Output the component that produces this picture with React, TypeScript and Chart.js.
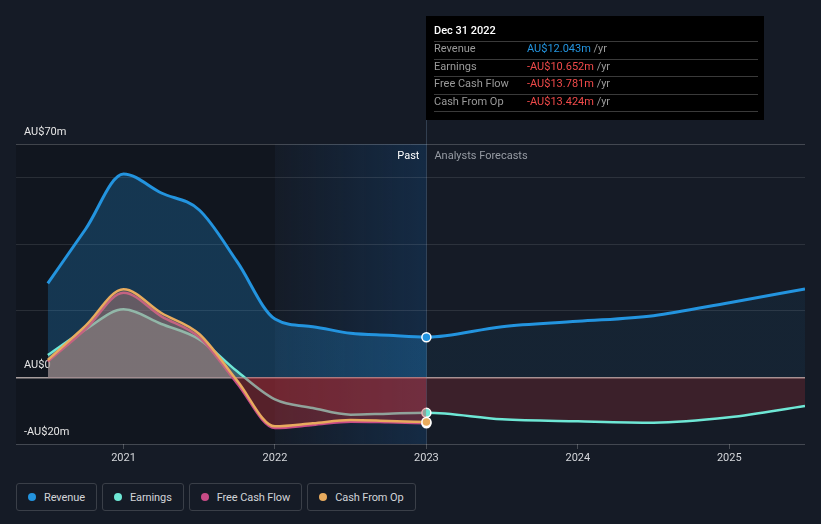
import { useEffect, useRef } from 'react';
import { Chart, registerables } from 'chart.js';

Chart.register(...registerables);

const FONT = "Roboto, 'Noto Sans', sans-serif";

// ---- data (AU$ millions) ----
const pastYears = [2020.5, 2020.75, 2021, 2021.25, 2021.5, 2021.75, 2022, 2022.25, 2022.5, 2022.75, 2023];
const forecastYears = [2023, 2023.5, 2024, 2024.5, 2025, 2025.5];

const revenuePast = [28.2, 44.5, 61.0, 55.3, 50.2, 34.7, 17.5, 15.2, 13.2, 12.6, 12.043];
const revenueForecast = [12.043, 15.2, 16.8, 18.5, 22.4, 26.5];

const earningsPast = [6.7, 14.4, 20.4, 16.0, 11.4, 1.8, -6.6, -9.2, -11.2, -10.9, -10.652];
const earningsForecast = [-10.652, -12.6, -13.2, -13.6, -12.0, -8.6];

const fcfPast = [4.7, 14.5, 25.4, 18.3, 12.0, -1.8, -15.2, -14.3, -13.3, -13.5, -13.781];
const cfoPast = [5.2, 15.5, 26.4, 19.3, 13.0, -1.0, -14.7, -13.8, -12.8, -13.1, -13.424];

const xTickYears = [2021, 2022, 2023, 2024, 2025];
const yGridValues = [-20, 0, 20, 40, 60, 70];
const yLabelValues = [-20, 0, 70];

const seriesNames = ['Revenue', 'Earnings', 'Free Cash Flow', 'Cash From Op'];
const seriesColors = ['#2394df', '#6ee7d5', '#c74b86', '#e8ab5e'];
const tooltipTitle = 'Dec 31 2022';
const highlightStart = 2022;
const forecastStart = 2023;
const xMin = 2020.29;
const xMax = 2025.5;

const pts = (xs: number[], ys: number[]) => xs.map((x, i) => ({ x, y: ys[i] }));
const fmt = (v: number) => (v < 0 ? '-' : '') + 'AU$' + Math.abs(v).toFixed(3) + 'm';
const yLabel = (v: number) => (v < 0 ? '-' : '') + 'AU$' + Math.abs(v) + (v === 0 ? '' : 'm');

const revenueAll = pts(pastYears, revenuePast).concat(pts(forecastYears.slice(1), revenueForecast.slice(1)));
const earningsAll = pts(pastYears, earningsPast).concat(pts(forecastYears.slice(1), earningsForecast.slice(1)));

const markerRadius = (c: any) => (c.raw && c.raw.x === forecastStart ? 4.5 : 0);

const bandPlugin = {
  id: 'bands',
  beforeDraw(chart: any) {
    const { ctx, chartArea: a, scales } = chart;
    const x = scales.x;
    const p0 = x.getPixelForValue(highlightStart);
    const p1 = x.getPixelForValue(forecastStart);
    ctx.save();
    ctx.fillStyle = 'rgba(0,0,0,0.17)';
    ctx.fillRect(a.left, a.top, p0 - a.left, a.bottom - a.top);
    const g = ctx.createLinearGradient(p0, 0, p1, 0);
    g.addColorStop(0, 'rgba(20,80,140,0.02)');
    g.addColorStop(1, 'rgba(20,80,140,0.3)');
    ctx.fillStyle = g;
    ctx.fillRect(p0, a.top, p1 - p0, a.bottom - a.top);
    ctx.strokeStyle = 'rgba(120,150,180,0.3)';
    ctx.lineWidth = 1;
    ctx.beginPath();
    ctx.moveTo(Math.round(p1) + 0.5, 120);
    ctx.lineTo(Math.round(p1) + 0.5, a.bottom);
    ctx.stroke();
    ctx.restore();
  },
};

const overlayPlugin = {
  id: 'overlay',
  afterDraw(chart: any) {
    const { ctx, chartArea: a, scales } = chart;
    const p1 = scales.x.getPixelForValue(forecastStart);
    ctx.save();
    ctx.font = `11px ${FONT}`;
    ctx.textBaseline = 'middle';
    ctx.textAlign = 'right';
    ctx.fillStyle = '#ffffff';
    ctx.fillText('Past', p1 - 7, a.top + 12);
    ctx.textAlign = 'left';
    ctx.fillStyle = '#969ba3';
    ctx.fillText('Analysts Forecasts', p1 + 8, a.top + 12);

    // tooltip box
    const left = Math.round(p1);
    const top = 16;
    const w = 338;
    const h = 104;
    ctx.fillStyle = '#000000';
    ctx.fillRect(left, top, w, h);
    ctx.fillStyle = '#ffffff';
    ctx.font = `500 11px ${FONT}`;
    ctx.fillText(tooltipTitle, left + 8, 31);
    const vals = [
      revenuePast[revenuePast.length - 1],
      earningsPast[earningsPast.length - 1],
      fcfPast[fcfPast.length - 1],
      cfoPast[cfoPast.length - 1],
    ];
    ctx.strokeStyle = '#3a3a3a';
    ctx.lineWidth = 1;
    for (let i = 0; i < 5; i++) {
      const ly = Math.round(41 + i * 17.5) + 0.5;
      ctx.beginPath();
      ctx.moveTo(left + 8, ly);
      ctx.lineTo(left + w - 6, ly);
      ctx.stroke();
    }
    ctx.font = `11px ${FONT}`;
    for (let i = 0; i < 4; i++) {
      const cy = 49.5 + i * 17.5;
      ctx.fillStyle = '#9a9a9a';
      ctx.fillText(seriesNames[i], left + 8, cy);
      const v = vals[i];
      const txt = fmt(v);
      ctx.fillStyle = v < 0 ? '#f04a4a' : '#2394df';
      ctx.fillText(txt, left + 101, cy);
      const tw = ctx.measureText(txt).width;
      ctx.fillStyle = '#9a9a9a';
      ctx.fillText(' /yr', left + 101 + tw, cy);
    }
    ctx.restore();
  },
};

export default function App() {
  const ref = useRef<HTMLCanvasElement | null>(null);

  useEffect(() => {
    if (!ref.current) return;
    Chart.defaults.font.family = FONT;
    const revenueFill = (c: any) => {
      const chart = c.chart;
      const area = chart.chartArea;
      const xs = chart.scales && chart.scales.x;
      if (!area || !xs) return 'rgba(35,148,223,0.2)';
      const px = xs.getPixelForValue(forecastStart);
      const g = chart.ctx.createLinearGradient(area.left, 0, area.right, 0);
      const t = Math.max(0, Math.min(1, (px - area.left) / (area.right - area.left)));
      g.addColorStop(0, 'rgba(35,148,223,0.26)');
      g.addColorStop(t, 'rgba(35,148,223,0.26)');
      g.addColorStop(Math.min(1, t + 0.0005), 'rgba(35,148,223,0.07)');
      g.addColorStop(1, 'rgba(35,148,223,0.07)');
      return g;
    };

    const common = {
      cubicInterpolationMode: 'monotone' as const,
      borderWidth: 2.5,
      pointRadius: markerRadius,
      pointHoverRadius: 0,
      pointBorderColor: '#ffffff',
      pointBorderWidth: 1.5,
    };

    const chart = new Chart(ref.current, {
      type: 'line',
      data: {
        datasets: [
          {
            ...common,
            label: seriesNames[0],
            data: revenueAll,
            borderColor: seriesColors[0],
            borderWidth: 3,
            backgroundColor: revenueFill,
            pointBackgroundColor: seriesColors[0],
            fill: 'origin',
            order: 4,
          },
          {
            ...common,
            label: seriesNames[1],
            data: earningsAll,
            borderColor: seriesColors[1],
            backgroundColor: 'rgba(140,180,170,0.35)',
            pointBackgroundColor: seriesColors[1],
            fill: { target: 'origin', above: 'rgba(140,180,170,0.35)', below: 'rgba(205,50,60,0.21)' },
            order: 3,
          },
          {
            ...common,
            label: seriesNames[2],
            data: pts(pastYears, fcfPast),
            borderColor: seriesColors[2],
            backgroundColor: 'rgba(180,90,125,0.28)',
            pointBackgroundColor: seriesColors[2],
            fill: { target: 'origin', above: 'rgba(180,90,125,0.28)', below: 'rgba(205,50,60,0.21)' },
            order: 2,
          },
          {
            ...common,
            label: seriesNames[3],
            data: pts(pastYears, cfoPast),
            borderColor: seriesColors[3],
            backgroundColor: 'rgba(190,160,120,0.28)',
            pointBackgroundColor: seriesColors[3],
            fill: { target: 'origin', above: 'rgba(190,160,120,0.28)', below: 'rgba(205,50,60,0.21)' },
            order: 1,
          },
        ],
      },
      options: {
        responsive: false,
        maintainAspectRatio: false,
        animation: false,
        events: [],
        layout: { padding: { top: 144, left: 16, right: 16, bottom: 0 } },
        plugins: {
          legend: { display: false },
          tooltip: { enabled: false },
        },
        scales: {
          x: {
            type: 'linear',
            min: xMin,
            max: xMax,
            afterBuildTicks: (s: any) => {
              s.ticks = xTickYears.map((v) => ({ value: v }));
            },
            afterFit: (s: any) => {
              s.height = 26;
            },
            border: { display: false },
            grid: {
              drawOnChartArea: false,
              drawTicks: true,
              tickLength: 5,
              color: 'rgba(255,255,255,0.22)',
            },
            ticks: {
              padding: 3,
              color: '#d4d6da',
              font: { size: 11, family: FONT },
              maxRotation: 0,
              callback: (v: any) => String(v),
            },
          },
          y: {
            type: 'linear',
            min: -20,
            max: 70,
            afterBuildTicks: (s: any) => {
              s.ticks = yGridValues.map((v) => ({ value: v }));
            },
            afterFit: (s: any) => {
              s.width = 0;
            },
            border: { display: false },
            grid: {
              drawTicks: false,
              color: (c: any) => {
                const v = c.tick && c.tick.value;
                if (v === 0) return '#a89e9e';
                if (v === 70 || v === -20) return 'rgba(255,255,255,0.2)';
                return 'rgba(255,255,255,0.1)';
              },
              lineWidth: (c: any) => (c.tick && c.tick.value === 0 ? 1.5 : 1),
            },
            ticks: {
              mirror: true,
              padding: 8,
              labelOffset: -12,
              color: '#e6e6e6',
              font: { size: 11, family: FONT },
              callback: (v: any) => (yLabelValues.includes(Number(v)) ? yLabel(Number(v)) : ''),
            },
          },
        },
      },
      plugins: [bandPlugin, overlayPlugin],
    });
    return () => chart.destroy();
  }, []);

  return (
    <div
      style={{
        position: 'fixed',
        left: 0,
        top: 0,
        width: 821,
        height: 524,
        background: '#151b26',
        fontFamily: FONT,
      }}
    >
      <canvas ref={ref} width={821} height={470} style={{ display: 'block', width: 821, height: 470 }} />
      <div style={{ position: 'absolute', left: 16, top: 483, display: 'flex', gap: 5 }}>
        {seriesNames.map((n, i) => (
          <div
            key={n}
            style={{
              display: 'flex',
              alignItems: 'center',
              height: 26,
              padding: '0 11px 0 11px',
              border: '1px solid #3a3f48',
              borderRadius: 3,
              color: '#d2d4d8',
              fontSize: 11,
              letterSpacing: -0.1,
              boxSizing: 'content-box',
            }}
          >
            <span
              style={{
                width: 8,
                height: 8,
                borderRadius: 4,
                background: seriesColors[i],
                marginRight: 8,
                display: 'inline-block',
              }}
            />
            {n}
          </div>
        ))}
      </div>
    </div>
  );
}
